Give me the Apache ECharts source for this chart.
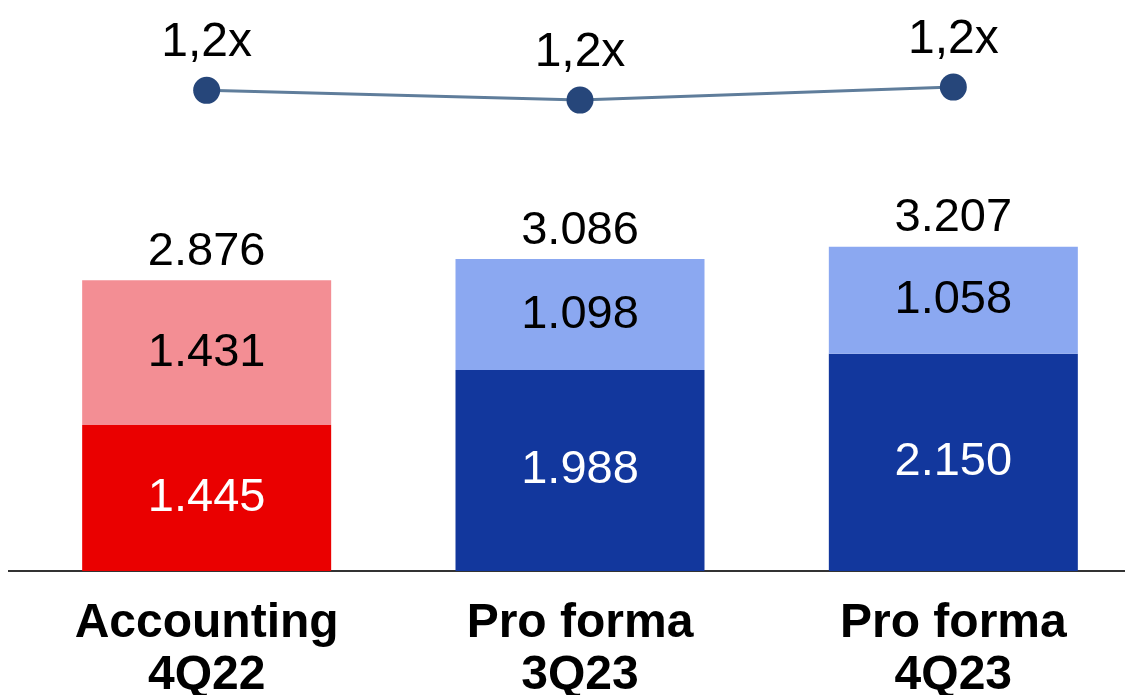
<!DOCTYPE html>
<html>
<head>
<meta charset="utf-8">
<script src="https://cdn.jsdelivr.net/npm/echarts@6/dist/echarts.min.js"></script>
<style>
  html, body { margin: 0; padding: 0; background: #ffffff; }
  #chart { width: 1125px; height: 695px; }
</style>
</head>
<body>
<div id="chart"></div>
<script>
// Categories and values (thousands separator written as "." in labels)
const categories = ['Accounting\n4Q22', 'Pro forma\n3Q23', 'Pro forma\n4Q23'];
const baseValues = [1.445, 1.988, 2.150];
const upperValues = [1.431, 1.098, 1.058];
const totalValues = [2.876, 3.086, 3.207];
const ratioValues = [1.23, 1.20, 1.24];

const baseColors = ['#EA0000', '#12379D', '#12379D'];
const upperColors = ['#F38E94', '#8BA8F1', '#8BA8F1'];

const FONT = '"Liberation Sans", Arial, sans-serif';
const fmt = v => v.toFixed(3);

const chart = echarts.init(document.getElementById('chart'));
chart.setOption({
  animation: false,
  backgroundColor: '#ffffff',
  grid: { left: 20, width: 1120, top: 0, bottom: 124, outerBoundsMode: 'none', containLabel: false },
  xAxis: {
    type: 'category',
    data: categories,
    axisLine: { lineStyle: { color: '#333333', width: 2 } },
    axisTick: { show: false },
    axisLabel: {
      margin: 27,
      fontFamily: FONT,
      fontSize: 48,
      fontWeight: 'bold',
      lineHeight: 52,
      color: '#000000'
    }
  },
  yAxis: [
    { type: 'value', min: 0, max: 5.65, show: false },
    { type: 'value', min: -0.249, max: 1.508, show: false }
  ],
  series: [
    {
      type: 'bar',
      stack: 'total',
      barWidth: 249,
      data: baseValues.map((v, i) => ({ value: v, itemStyle: { color: baseColors[i] } })),
      label: {
        show: true, position: 'inside',
        fontFamily: FONT, fontSize: 47, color: '#ffffff',
        formatter: p => fmt(p.value)
      }
    },
    {
      type: 'bar',
      stack: 'total',
      barWidth: 249,
      data: upperValues.map((v, i) => ({ value: v, itemStyle: { color: upperColors[i] } })),
      label: {
        show: true, position: 'inside',
        fontFamily: FONT, fontSize: 47, color: '#000000',
        formatter: p => fmt(p.value)
      }
    },
    {
      // zero-height cap on each stack, carrying the total as its label
      type: 'bar',
      stack: 'total',
      barWidth: 249,
      data: totalValues.map(() => 0),
      itemStyle: { color: 'rgba(0,0,0,0)' },
      label: {
        show: true, position: 'top', distance: 5,
        fontFamily: FONT, fontSize: 47, color: '#000000',
        formatter: p => fmt(totalValues[p.dataIndex])
      }
    },
    {
      type: 'line',
      yAxisIndex: 1,
      data: ratioValues,
      symbol: 'circle',
      symbolSize: 27,
      lineStyle: { color: '#5F7D9B', width: 3 },
      itemStyle: { color: '#26467A' },
      label: {
        show: true, position: 'top', distance: 10,
        fontFamily: FONT, fontSize: 48, color: '#000000',
        formatter: p => p.value.toFixed(1).replace('.', ',') + 'x'
      }
    }
  ],
  graphic: [
    {
      type: 'line',
      shape: { x1: 8, y1: 571, x2: 20, y2: 571 },
      style: { stroke: '#333333', lineWidth: 2 }
    }
  ]
});
</script>
</body>
</html>
